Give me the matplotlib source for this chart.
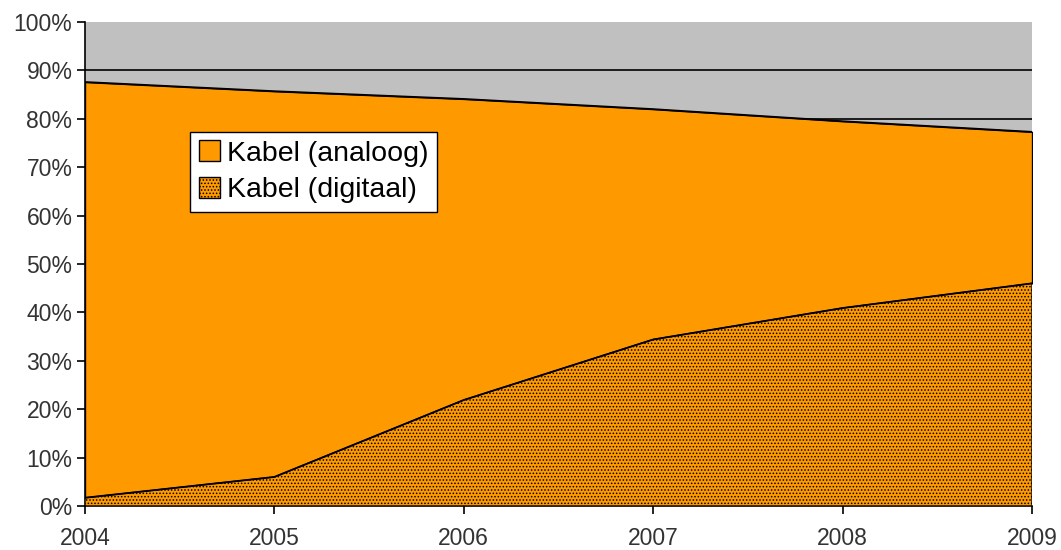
import matplotlib.pyplot as plt
from matplotlib.ticker import PercentFormatter

plt.rcParams['font.family'] = ['Liberation Sans', 'DejaVu Sans']
plt.rcParams['hatch.linewidth'] = 0.7

years = [2004, 2005, 2006, 2007, 2008, 2009]
digitaal = [1.7, 6.0, 21.9, 34.4, 40.9, 46.0]
analoog = [85.9, 79.7, 62.2, 47.6, 38.6, 31.3]
totaal = [d + a for d, a in zip(digitaal, analoog)]

orange = '#FF9900'
fig = plt.figure(figsize=(10.61, 5.5), dpi=100)
ax = fig.add_axes([0.0801, 0.08, 0.8926, 0.88])
ax.set_facecolor('#C0C0C0')

# gridlines sit behind the areas, so only the grey part shows them
for g in range(10, 100, 10):
    ax.axhline(g, color='black', lw=1.2, zorder=1)

ax.fill_between(years, digitaal, totaal, facecolor=orange, edgecolor='none',
                zorder=2, label='Kabel (analoog)')
ax.fill_between(years, 0, digitaal, facecolor=orange, edgecolor='#CC7A00',
                hatch='.....', linewidth=0, zorder=3, label='Kabel (digitaal)')
ax.plot(years, totaal, color='black', lw=1.3, zorder=4)
ax.plot(years, digitaal, color='black', lw=1.3, zorder=4)

ax.set_xlim(2004, 2009)
ax.set_ylim(0, 100)
ax.set_yticks(range(0, 101, 10))
ax.yaxis.set_major_formatter(PercentFormatter(decimals=0))
ax.set_xticks(years)
ax.tick_params(axis='both', labelsize=16.5, length=6, width=1.2,
               colors='black', labelcolor='#333333')
ax.tick_params(axis='x', pad=9)
ax.tick_params(axis='y', pad=3)
for s in ['top', 'right']:
    ax.spines[s].set_visible(False)
for s in ['left', 'bottom']:
    ax.spines[s].set_linewidth(1.2)

h, l = ax.get_legend_handles_labels()
for hh in h:
    hh.set_edgecolor('black')
    hh.set_linewidth(1.0)
leg = ax.legend(h, l, loc='upper left', bbox_to_anchor=(0.111, 0.773),
                fontsize=20.5, frameon=True, fancybox=False, framealpha=1,
                edgecolor='black', handlelength=0.75, handleheight=0.75,
                handletextpad=0.25, borderpad=0.3, labelspacing=0.35,
                borderaxespad=0)
leg.get_frame().set_linewidth(1.0)
leg.set_zorder(10)

fig.savefig('out.png', dpi=100)
